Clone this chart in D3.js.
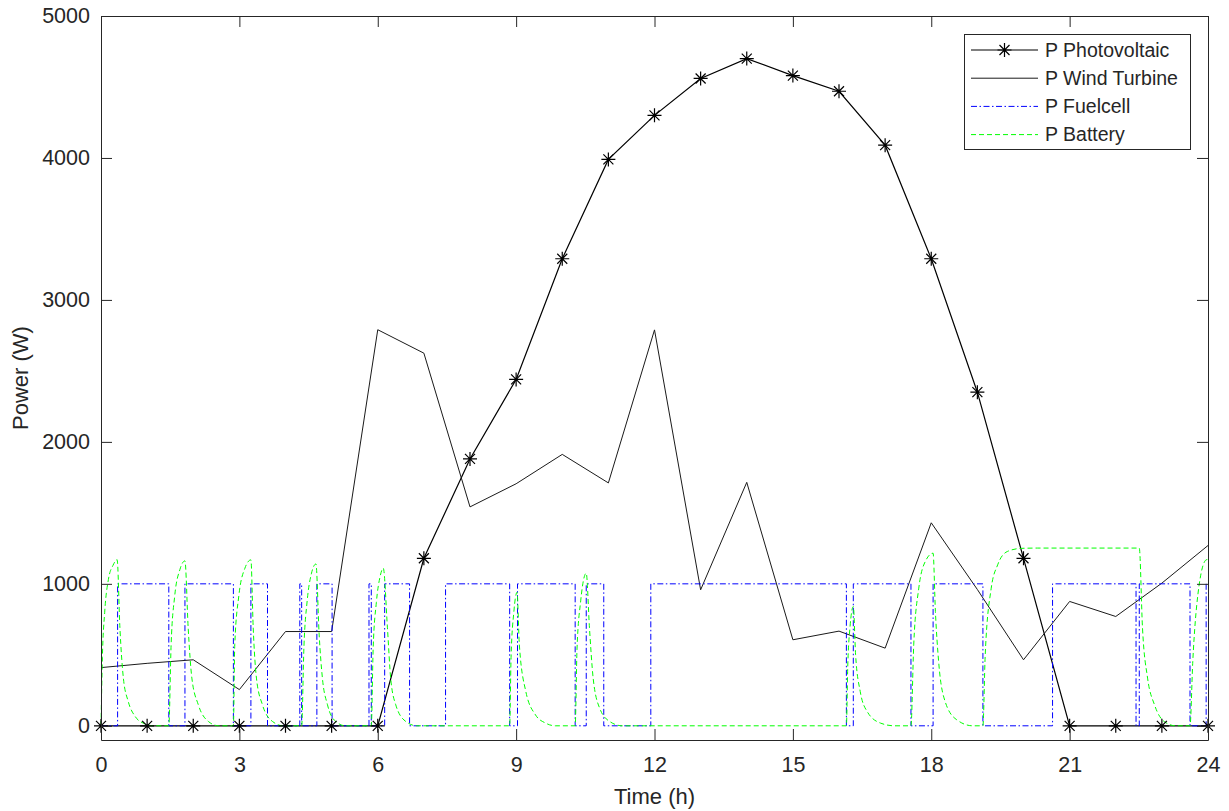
<!DOCTYPE html>
<html>
<head>
<meta charset="utf-8">
<script src="https://cdn.jsdelivr.net/npm/d3@7"></script>
<style>
body { margin:0; background:#fff; }
text { font-family: "Liberation Sans", Arial, sans-serif; fill:#262626; }
</style>
</head>
<body>
<svg id="chart" width="1229" height="811"></svg>
<script>
// hours 0..24
var pvHours = d3.range(0, 25);
var pvPower = [0, 0, 0, 0, 0, 0, 0, 1180, 1880, 2440, 3290, 3990, 4300, 4560, 4700,
	4580, 4470, 4090, 3290, 2350, 1180, 0, 0, 0, 0];
var windPower = [410, 440, 465, 255, 664, 664, 2790, 2625, 1542, 1705, 1912, 1711, 2789, 958, 1715,
	606, 667, 547, 1430, 960, 465, 876, 770, 1005, 1270];

// fuel cell switches (step after)
var fuelTime = [0, 0.36, 1.47, 1.82, 2.87, 3.25, 3.61, 4.31, 4.35, 4.68, 5.01, 5.81, 5.86, 6.15, 6.69,
	7.47, 8.86, 9.03, 10.28, 10.52, 10.90, 11.92, 16.16, 16.31, 17.56, 18.04, 19.12, 20.63, 22.44,
	22.51, 23.61, 23.96, 24];
var fuelPower = [0, 1000, 0, 1000, 0, 1000, 0, 1000, 0, 1000, 0, 1000, 0, 1000, 0,
	1000, 0, 1000, 0, 1000, 0, 1000, 0, 1000, 0, 1000, 0, 1000, 0,
	1000, 0, 1000, 1000];

// battery
var battTime = [0, 0.03, 0.08, 0.16, 0.26, 0.35, 0.41, 0.485, 0.59, 0.74, 0.95, 1.15,
	1.47, 1.52, 1.60, 1.71, 1.82, 1.89, 1.97, 2.11, 2.33, 2.55,
	2.87, 2.90, 2.99, 3.12, 3.25, 3.30, 3.37, 3.50, 3.72, 3.95,
	4.35, 4.40, 4.47, 4.56, 4.66, 4.73, 4.80, 4.91, 5.09, 5.30,
	5.86, 5.90, 5.97, 6.05, 6.12, 6.21, 6.28, 6.39, 6.61, 6.85,
	8.86, 8.89, 8.95, 9.02, 9.07, 9.21, 9.42, 9.64, 9.85,
	10.28, 10.32, 10.40, 10.52, 10.59, 10.67, 10.81, 11.03, 11.30,
	16.16, 16.19, 16.24, 16.31, 16.36, 16.46, 16.61, 16.90, 17.20,
	17.56, 17.62, 17.73, 17.87, 18.04, 18.09, 18.16, 18.30, 18.55, 18.90,
	19.12, 19.17, 19.30, 19.44, 19.65, 19.95, 20.30, 22.51, 22.58, 22.69, 22.84, 23.05, 23.30,
	23.61, 23.67, 23.78, 23.96, 24];
var battPower = [0, 480, 800, 1030, 1130, 1170, 690, 336, 172, 66, 14, 0,
	0, 570, 920, 1100, 1162, 690, 336, 148, 30, 0,
	0, 570, 920, 1110, 1169, 690, 336, 148, 30, 0,
	0, 560, 880, 1070, 1140, 640, 336, 148, 30, 0,
	0, 540, 870, 1050, 1110, 690, 336, 148, 30, 0,
	0, 480, 800, 940, 570, 242, 77, 19, 0,
	0, 540, 880, 1075, 690, 336, 125, 30, 0,
	0, 420, 700, 840, 500, 242, 101, 19, 0,
	0, 570, 970, 1157, 1216, 805, 453, 172, 43, 0,
	0, 500, 969, 1134, 1228, 1250, 1252, 1252, 688, 336, 148, 30, 0,
	0, 453, 922, 1169, 1172];

var xTicks = [0, 3, 6, 9, 12, 15, 18, 21, 24];
var yTicks = [0, 1000, 2000, 3000, 4000, 5000];
var seriesNames = ["P Photovoltaic", "P Wind Turbine", "P Fuelcell", "P Battery"];

var svg = d3.select("#chart");
var plotL = 101, plotR = 1208, plotT = 16, plotB = 740;

var x = d3.scaleLinear().domain([0, 24]).range([plotL, plotR]);
var y = d3.scaleLinear().domain([-100, 5000]).range([plotB, plotT]);

svg.append("rect").attr("width", 1229).attr("height", 811).attr("fill", "#fff");

function pts(xs, ys) {
	return xs.map(function(d, i) { return [d, ys[i]]; });
}

var line = d3.line().x(function(d) { return x(d[0]); }).y(function(d) { return y(d[1]); });

// PV
svg.append("path")
	.attr("d", line(pts(pvHours, pvPower)))
	.attr("fill", "none").attr("stroke", "#000").attr("stroke-width", 1.2);

// wind
svg.append("path")
	.attr("d", line(pts(pvHours, windPower)))
	.attr("fill", "none").attr("stroke", "#1a1a1a").attr("stroke-width", 1);

// fuel cell
svg.append("path")
	.attr("d", line.curve(d3.curveStepAfter)(pts(fuelTime, fuelPower)))
	.attr("fill", "none").attr("stroke", "#0000ff").attr("stroke-width", 1)
	.attr("stroke-dasharray", "6,2.5,1.5,2.5");

// battery
svg.append("path")
	.attr("d", line.curve(d3.curveMonotoneX)(pts(battTime, battPower)))
	.attr("fill", "none").attr("stroke", "#00ff00").attr("stroke-width", 1)
	.attr("stroke-dasharray", "5,3");
line.curve(d3.curveLinear);

function star(g, cx, cy) {
	var r = 7, q = 5;
	g.append("path")
		.attr("d", "M" + (cx - r) + "," + cy + "H" + (cx + r) + "M" + cx + "," + (cy - r) + "V" + (cy + r) +
			"M" + (cx - q) + "," + (cy - q) + "L" + (cx + q) + "," + (cy + q) +
			"M" + (cx - q) + "," + (cy + q) + "L" + (cx + q) + "," + (cy - q))
		.attr("stroke", "#000").attr("stroke-width", 1.2).attr("fill", "none");
}

var marks = svg.append("g");
pvHours.forEach(function(h, i) { star(marks, x(h), y(pvPower[i])); });

// axes, ticks inward, box
var axisG = svg.append("g").attr("class", "axes");
axisG.append("g").attr("transform", "translate(0," + plotB + ")")
	.call(d3.axisBottom(x).tickValues(xTicks).tickSizeInner(-11).tickSizeOuter(0).tickPadding(17));
axisG.append("g").attr("transform", "translate(0," + plotT + ")")
	.call(d3.axisTop(x).tickValues(xTicks).tickSizeInner(-11).tickSizeOuter(0).tickFormat(""));
axisG.append("g").attr("transform", "translate(" + plotL + ",0)")
	.call(d3.axisLeft(y).tickValues(yTicks).tickFormat(d3.format("d"))
		.tickSizeInner(-11).tickSizeOuter(0).tickPadding(11));
axisG.append("g").attr("transform", "translate(" + plotR + ",0)")
	.call(d3.axisRight(y).tickValues(yTicks).tickSizeInner(-11).tickSizeOuter(0).tickFormat(""));

axisG.selectAll("path.domain, line").attr("stroke", "#262626").attr("stroke-width", 1);
axisG.selectAll("text").attr("font-size", 21.5).attr("font-family", "Liberation Sans, Arial, sans-serif")
	.attr("fill", "#262626");

svg.append("text")
	.attr("x", (plotL + plotR) / 2).attr("y", 804)
	.attr("text-anchor", "middle").attr("font-size", 22)
	.text("Time (h)");
svg.append("text")
	.attr("transform", "translate(28," + ((plotT + plotB) / 2) + ") rotate(-90)")
	.attr("text-anchor", "middle").attr("font-size", 22)
	.text("Power (W)");

// legend
var lg = svg.append("g");
lg.append("rect")
	.attr("x", 964.5).attr("y", 34.5).attr("width", 226).attr("height", 115)
	.attr("fill", "#fff").attr("stroke", "#262626").attr("stroke-width", 1);

var legStyles = [
	{ stroke: "#000", dash: null, w: 1.2 },
	{ stroke: "#1a1a1a", dash: null, w: 1 },
	{ stroke: "#0000ff", dash: "6,2.5,1.5,2.5", w: 1 },
	{ stroke: "#00ff00", dash: "5,3", w: 1 }
];
seriesNames.forEach(function(name, i) {
	var ry = 50 + i * 28.2;
	lg.append("line")
		.attr("x1", 971).attr("x2", 1038).attr("y1", ry).attr("y2", ry)
		.attr("stroke", legStyles[i].stroke).attr("stroke-width", legStyles[i].w)
		.attr("stroke-dasharray", legStyles[i].dash);
	if (i == 0) star(lg, 1004.5, ry);
	lg.append("text")
		.attr("x", 1045).attr("y", ry).attr("dy", "0.35em")
		.attr("font-size", 19.5)
		.text(name);
});
</script>
</body>
</html>
